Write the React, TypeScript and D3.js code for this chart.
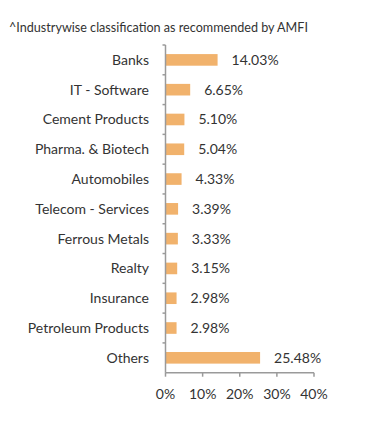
import React from "react";
import * as d3 from "d3";

const categories = [
  "Banks",
  "IT - Software",
  "Cement Products",
  "Pharma. & Biotech",
  "Automobiles",
  "Telecom - Services",
  "Ferrous Metals",
  "Realty",
  "Insurance",
  "Petroleum Products",
  "Others",
];
const values = [14.03, 6.65, 5.1, 5.04, 4.33, 3.39, 3.33, 3.15, 2.98, 2.98, 25.48];
const xTicks = [0, 10, 20, 30, 40];
const title = "^Industrywise classification as recommended by AMFI";

const W = 391;
const H = 426;
const left = 165.5;
const right = 314;
const top = 45;
const bottom = 372.7;
const font = "Lato, 'Open Sans', sans-serif";
const textColor = "#333333";
const axisColor = "#9a9a9a";
const barColor = "#F1B26C";

export default function App() {
  const x = d3.scaleLinear().domain([0, 40]).range([left, right]);
  const y = d3.scaleBand<string>().domain(categories).range([top, bottom]).paddingInner(0.61).paddingOuter(0.305);
  const band = d3.scaleBand<string>().domain(categories).range([top, bottom]);
  return (
    <svg width={W} height={H} style={{ position: "absolute", left: 0, top: 0, background: "#fff" }} fontFamily={font}>
      <text x={9} y={32} fontSize={12.6} fill={textColor}>{title}</text>
      {categories.map((c, i) => (
        <g key={c}>
          <rect x={x(0)} y={y(c)!} width={x(values[i]) - x(0)} height={y.bandwidth()} fill={barColor} />
          <text x={149} y={band(c)! + band.bandwidth() / 2} dy="0.35em" textAnchor="end" fontSize={14} fill={textColor}>{c}</text>
          <text x={x(values[i]) + 14} y={band(c)! + band.bandwidth() / 2} dy="0.35em" fontSize={14} fill={textColor}>{values[i].toFixed(2)}%</text>
        </g>
      ))}
      {/* y axis */}
      <line x1={x(0)} x2={x(0)} y1={top} y2={bottom} stroke={axisColor} strokeWidth={1.5} />
      {categories.map((c) => (
        <line key={"t" + c} x1={x(0) - 3} x2={x(0)} y1={band(c)!} y2={band(c)!} stroke={axisColor} strokeWidth={1.5} />
      ))}
      {/* x axis */}
      <line x1={x(0)} x2={x(40)} y1={bottom} y2={bottom} stroke={axisColor} strokeWidth={1.5} />
      {xTicks.map((t) => (
        <g key={"x" + t}>
          <line x1={x(t)} x2={x(t)} y1={bottom} y2={bottom + 4} stroke={axisColor} strokeWidth={1.5} />
          <text x={x(t)} y={394} dy="0.35em" textAnchor="middle" fontSize={14} fill={textColor}>{t}%</text>
        </g>
      ))}
    </svg>
  );
}
